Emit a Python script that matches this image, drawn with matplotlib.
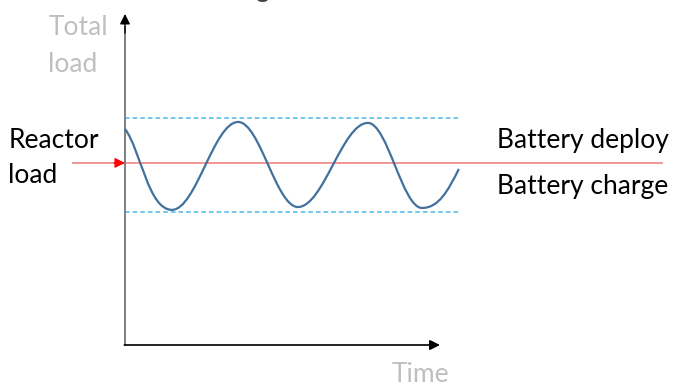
import matplotlib.pyplot as plt
from matplotlib.path import Path
from matplotlib.patches import PathPatch

# schematic values (time units, load units)
start_pt = (0.0, 6.86)
end_pt = (10.60, 5.59)
peak_t = [1.49, 3.59, 5.49, 7.71, 9.43]
peak_load = [4.29, 7.08, 4.38, 7.05, 4.35]
reactor_load = 5.78
upper_band = 7.21
lower_band = 4.22
band_end = 10.57
time_max = 10.0
load_max = 10.51

plt.rcParams['font.family'] = ['Lato', 'DejaVu Sans']

fig = plt.figure(figsize=(6.79, 3.85), dpi=100)
ax = fig.add_axes([0, 0, 1, 1])
ax.set_xlim(-3.968, 17.587)
ax.set_ylim(-1.27, 10.952)
ax.axis('off')

# load curve as bezier segments between extrema
k = 0.3634
verts = [start_pt]
codes = [Path.MOVETO]
x0, y0 = start_pt
x1, y1 = peak_t[0], peak_load[0]
verts += [(x0 + 0.5, y0 - 0.67), (x1 - 0.75, y1), (x1, y1)]
codes += [Path.CURVE4] * 3
for i in range(len(peak_t) - 1):
    xa, ya = peak_t[i], peak_load[i]
    xb, yb = peak_t[i + 1], peak_load[i + 1]
    w = xb - xa
    verts += [(xa + k * w, ya), (xb - k * w, yb), (xb, yb)]
    codes += [Path.CURVE4] * 3
xa, ya = peak_t[-1], peak_load[-1]
xb, yb = end_pt
w = xb - xa
verts += [(xa + 0.45 * w, ya), (xb - 0.3 * w, yb - 0.3 * w * 2.0), (xb, yb)]
codes += [Path.CURVE4] * 3
ax.add_patch(PathPatch(Path(verts, codes), fill=False, edgecolor='#41719C', lw=1.6, zorder=4))

# band lines
for lvl in [upper_band, lower_band]:
    ax.plot([0, band_end], [lvl, lvl], color='#4DB8E8', lw=1.1, dashes=(3, 2), zorder=2)

# reactor load line
ax.plot([-1.65, 17.05], [reactor_load, reactor_load], color='#F28C8C', lw=1.3, zorder=3)
ax.annotate('', xy=(0, reactor_load), xytext=(-0.35, reactor_load),
            arrowprops=dict(arrowstyle='-|>,head_length=0.6,head_width=0.3', color='#FF0000',
                            lw=1, shrinkA=0, shrinkB=0), zorder=5)

# axes
ax.plot([0, 0], [0, 10.1], color='#7F7F7F', lw=1.4, zorder=3)
ax.annotate('', xy=(0, load_max), xytext=(0, 9.9),
            arrowprops=dict(arrowstyle='-|>,head_length=0.6,head_width=0.3', color='black',
                            lw=1, shrinkA=0, shrinkB=0))
ax.annotate('', xy=(time_max, 0), xytext=(-0.02, 0),
            arrowprops=dict(arrowstyle='-|>,head_length=0.6,head_width=0.3', color='black',
                            lw=1.2, shrinkA=0, shrinkB=0))

# labels
fs = 19
gray = '#BFBFBF'
ax.text(-2.44, 9.84, 'Total', color=gray, fontsize=fs, va='baseline')
ax.text(-2.44, 8.67, 'load', color=gray, fontsize=fs, va='baseline')
ax.text(-3.71, 6.25, 'Reactor', color='black', fontsize=fs, va='baseline')
ax.text(-3.71, 5.14, 'load', color='black', fontsize=fs, va='baseline')
ax.text(11.81, 6.25, 'Battery deploy', color='black', fontsize=fs, va='baseline')
ax.text(11.81, 4.79, 'Battery charge', color='black', fontsize=fs, va='baseline')
ax.text(8.48, -1.17, 'Time', color=gray, fontsize=fs, va='baseline')
ax.text(4.13, 11.04, 'g', color='#404040', fontsize=fs, va='baseline')

fig.savefig('out.png', dpi=100)
